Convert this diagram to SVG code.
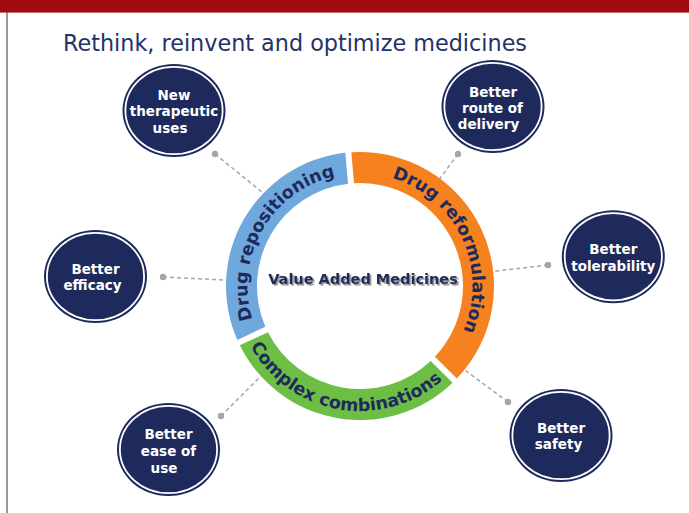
<svg xmlns="http://www.w3.org/2000/svg" width="689" height="513" viewBox="0 0 689 513">
<style>
.conn{stroke:#A6A6A6;stroke-width:1.5;stroke-dasharray:4 3;fill:none}
.dot{fill:#A6A6A6}
.nodeFill{fill:#1F2A5C}
.nodeRing{fill:none;stroke:#FFFFFF;stroke-width:1.8}
.nodeTxt{font-family:"DejaVu Sans",Verdana,sans-serif;font-weight:bold;font-size:13.5px;fill:#FFFFFF;text-anchor:middle}
.ringTxt{font-family:"DejaVu Sans",Verdana,sans-serif;font-weight:bold;font-size:17.5px;fill:#1F2A5C}
.title{font-family:"DejaVu Sans",Verdana,sans-serif;font-size:22.3px;fill:#233268}
</style>
<defs>
<path id="pBlue" d="M 262.57 342.25 A 112.5 112.5 0 0 1 360 173.5"/>
<path id="pOrange" d="M 360 173.5 A 112.5 112.5 0 0 1 446.18 358.31"/>
<path id="pGreen" d="M 239.26 318.35 A 125 125 0 0 0 462.4 357.7"/>
<filter id="shadow" x="-10%" y="-50%" width="120%" height="200%">
<feDropShadow dx="1.6" dy="1.6" stdDeviation="0.7" flood-color="#7F7F7F" flood-opacity="0.9"/>
</filter>
</defs>
<rect x="0" y="0" width="689" height="12.6" fill="#A00A10"/>
<line x1="7" y1="12.6" x2="7" y2="513" stroke="#333333" stroke-width="1"/>
<text class="title" x="63" y="51">Rethink, reinvent and optimize medicines</text>

<g id="connectors">
<line class="conn" x1="215" y1="154" x2="264.7" y2="194.3"/>
<circle class="dot" cx="215" cy="154" r="3.2"/>
<line class="conn" x1="458" y1="154" x2="438" y2="181"/>
<circle class="dot" cx="458" cy="154" r="3.2"/>
<line class="conn" x1="163" y1="277" x2="230" y2="280.3"/>
<circle class="dot" cx="163" cy="277" r="3.2"/>
<line class="conn" x1="548" y1="265" x2="488" y2="272"/>
<circle class="dot" cx="548" cy="265" r="3.2"/>
<line class="conn" x1="221" y1="416" x2="261" y2="376"/>
<circle class="dot" cx="221" cy="416" r="3.2"/>
<line class="conn" x1="508" y1="402" x2="462" y2="368"/>
<circle class="dot" cx="508" cy="402" r="3.2"/>
</g>

<g id="ring-blue">
<path d="M 237.32 339.90 A 134 134 0 0 1 345.34 152.81 L 348.04 183.70 A 103 103 0 0 0 265.42 326.79 Z" fill="#6FA8DC"/>
<text class="ringTxt"><textPath href="#pBlue" startOffset="50%" text-anchor="middle">Drug repositioning</textPath></text>
</g>
<g id="ring-orange">
<path d="M 351.31 152.28 A 134 134 0 0 1 456.85 378.61 L 434.92 356.68 A 103 103 0 0 0 354.02 183.17 Z" fill="#F5821F"/>
<text class="ringTxt"><textPath href="#pOrange" startOffset="50%" text-anchor="middle">Drug reformulation</textPath></text>
</g>
<g id="ring-green">
<path d="M 452.61 382.85 A 134 134 0 0 1 239.85 345.34 L 267.96 332.23 A 103 103 0 0 0 430.68 360.92 Z" fill="#6DBE45"/>
<text class="ringTxt"><textPath href="#pGreen" startOffset="50%" text-anchor="middle">Complex combinations</textPath></text>
</g>

<g id="center">
<text x="363" y="284" font-family="DejaVu Sans, Verdana, sans-serif" font-weight="bold" font-size="14.5" fill="#1F2A5C" text-anchor="middle" filter="url(#shadow)">Value Added Medicines</text>
</g>

<g id="node-new-uses">
<ellipse class="nodeFill" cx="174" cy="110.5" rx="51.5" ry="46.5"/>
<ellipse class="nodeRing" cx="174" cy="110.5" rx="48.6" ry="43.6"/>
<text class="nodeTxt" x="174" y="100">New</text>
<text class="nodeTxt" x="174" y="116.3">therapeutic</text>
<text class="nodeTxt" x="170" y="132.7">uses</text>
</g>
<g id="node-route">
<ellipse class="nodeFill" cx="493" cy="106.5" rx="51.5" ry="46.5"/>
<ellipse class="nodeRing" cx="493" cy="106.5" rx="48.6" ry="43.6"/>
<text class="nodeTxt" x="493" y="96.7">Better</text>
<text class="nodeTxt" x="492.5" y="112.7">route of</text>
<text class="nodeTxt" x="488.5" y="128.5">delivery</text>
</g>
<g id="node-efficacy">
<ellipse class="nodeFill" cx="95.5" cy="276.5" rx="51.5" ry="46.5"/>
<ellipse class="nodeRing" cx="95.5" cy="276.5" rx="48.6" ry="43.6"/>
<text class="nodeTxt" x="95.5" y="274">Better</text>
<text class="nodeTxt" x="92.5" y="290">efficacy</text>
</g>
<g id="node-tolerability">
<ellipse class="nodeFill" cx="613.3" cy="256.7" rx="51.5" ry="46.5"/>
<ellipse class="nodeRing" cx="613.3" cy="256.7" rx="48.6" ry="43.6"/>
<text class="nodeTxt" x="613.3" y="254">Better</text>
<text class="nodeTxt" x="613.3" y="270.8">tolerability</text>
</g>
<g id="node-ease">
<ellipse class="nodeFill" cx="168.5" cy="449.5" rx="51.5" ry="46.5"/>
<ellipse class="nodeRing" cx="168.5" cy="449.5" rx="48.6" ry="43.6"/>
<text class="nodeTxt" x="168.5" y="439.3">Better</text>
<text class="nodeTxt" x="168.5" y="456">ease of</text>
<text class="nodeTxt" x="164" y="472.7">use</text>
</g>
<g id="node-safety">
<ellipse class="nodeFill" cx="561" cy="435.5" rx="51.5" ry="46.5"/>
<ellipse class="nodeRing" cx="561" cy="435.5" rx="48.6" ry="43.6"/>
<text class="nodeTxt" x="561" y="432.7">Better</text>
<text class="nodeTxt" x="558.5" y="449.3">safety</text>
</g>
</svg>
